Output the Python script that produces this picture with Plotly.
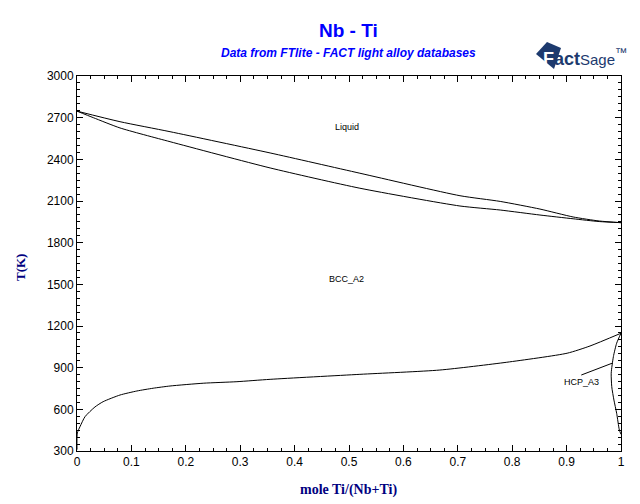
import plotly.graph_objects as go

# ---- data ----
liq_x = [0.0, 0.079, 0.171, 0.355, 0.52, 0.704, 0.778, 0.851, 0.912, 0.96, 1.0]
liq_T = [2747, 2671, 2599, 2446, 2300, 2138, 2097, 2042, 1985, 1956, 1944]

sol_x = [0.0, 0.03, 0.079, 0.171, 0.355, 0.52, 0.704, 0.778, 0.851, 0.912, 0.96, 1.0]
sol_T = [2747, 2700, 2626, 2527, 2338, 2192, 2064, 2035, 1999, 1972, 1952, 1944]

bcc_x = [0.0, 0.0006, 0.0055, 0.0147, 0.033, 0.048, 0.079, 0.110, 0.140, 0.171,
         0.232, 0.294, 0.355, 0.52, 0.667, 0.79, 0.901, 0.943, 1.0]
bcc_T = [310, 430, 475, 547, 617, 655, 703, 732, 752, 768,
         788, 799, 816, 852, 883, 939, 1004, 1056, 1148]

hcp_x = [1.0, 0.992, 0.986, 0.982, 0.983, 0.987, 0.992, 0.997, 1.0]
hcp_T = [1148, 1076, 979, 860, 763, 667, 572, 451, 420]

leader_x = [0.927, 0.985]
leader_T = [847, 934]

phase_labels = ["Liquid", "BCC_A2", "HCP_A3"]
label_x = [0.496, 0.496, 0.928]
label_T = [2633, 1539, 797]

x_ticks = [0, 0.1, 0.2, 0.3, 0.4, 0.5, 0.6, 0.7, 0.8, 0.9, 1]
x_ticktext = ["0", "0.1", "0.2", "0.3", "0.4", "0.5", "0.6", "0.7", "0.8", "0.9", "1"]
y_ticks = [300, 600, 900, 1200, 1500, 1800, 2100, 2400, 2700, 3000]

fig = go.Figure()
for xs, ys, shape in [(liq_x, liq_T, "spline"), (sol_x, sol_T, "spline"), (bcc_x, bcc_T, "spline"),
                      (hcp_x, hcp_T, "spline"), (leader_x, leader_T, "linear")]:
    fig.add_trace(go.Scatter(x=xs, y=ys, mode="lines",
                             line=dict(color="black", width=1, shape=shape, smoothing=0.6),
                             showlegend=False, hoverinfo="skip"))

for t, x, y in zip(phase_labels, label_x, label_T):
    fig.add_annotation(x=x, y=y, text=t, showarrow=False,
                       font=dict(family="Liberation Sans, Arial", size=9, color="black"))

fig.update_layout(
    width=640, height=504,
    margin=dict(l=77, r=19, t=76, b=53),
    paper_bgcolor="white", plot_bgcolor="white",
    showlegend=False,
)

def px(xp):
    return (xp - 77) / 544

def py(yp):
    return (451 - yp) / 375

fig.add_annotation(xref="paper", yref="paper", x=px(348), y=py(31),
                   text="<b>Nb - Ti</b>", showarrow=False, xanchor="center", yanchor="middle",
                   font=dict(family="Liberation Sans, Arial", size=19, color="#0000ff"))
fig.add_annotation(xref="paper", yref="paper", x=px(348), y=py(53),
                   text="<b><i>Data from FTlite - FACT light alloy databases</i></b>", showarrow=False,
                   xanchor="center", yanchor="middle",
                   font=dict(family="Liberation Sans, Arial", size=12, color="#0000ff"))

# axis titles
fig.add_annotation(xref="paper", yref="paper", x=px(348), y=py(490),
                   text="<b>mole Ti/(Nb+Ti)</b>", showarrow=False, xanchor="center", yanchor="middle",
                   font=dict(family="Liberation Serif, Times New Roman", size=14, color="#000080"))
fig.add_annotation(xref="paper", yref="paper", x=px(20), y=py(268),
                   text="<b>T(K)</b>", showarrow=False, textangle=-90, xanchor="center", yanchor="middle",
                   font=dict(family="Liberation Serif, Times New Roman", size=13, color="#000080"))

# FactSage logo (approximation)
fig.add_shape(type="path", xref="paper", yref="paper",
              path=f"M {px(536)} {py(54)} L {px(547)} {py(42)} L {px(561)} {py(48)} L {px(554)} {py(69)} Z",
              fillcolor="#1d3a6e", line=dict(width=0))
fig.add_annotation(xref="paper", yref="paper", x=px(541), y=py(57),
                   text="<b><span style='color:white'>F</span>act</b><span style='font-size:15px'>Sage</span><sup>™</sup>",
                   showarrow=False, xanchor="left", yanchor="middle",
                   font=dict(family="Liberation Sans Narrow, Liberation Sans, Arial", size=18, color="#1d3a6e"))

axis_common = dict(showline=True, linecolor="black", linewidth=1, mirror="ticks",
                   ticks="inside", ticklen=6, tickcolor="black", tickwidth=1,
                   showgrid=False, zeroline=False,
                   tickfont=dict(family="Liberation Sans, Arial", size=12, color="black"))
fig.update_xaxes(range=[0, 1], tickvals=x_ticks, ticktext=x_ticktext,
                 minor=dict(dtick=0.025, ticklen=3, ticks="inside", tickcolor="black", showgrid=False),
                 **axis_common)
fig.update_yaxes(range=[300, 3000], tickvals=y_ticks,
                 minor=dict(dtick=50, ticklen=3, ticks="inside", tickcolor="black", showgrid=False),
                 **axis_common)

fig.write_html("out.html")
